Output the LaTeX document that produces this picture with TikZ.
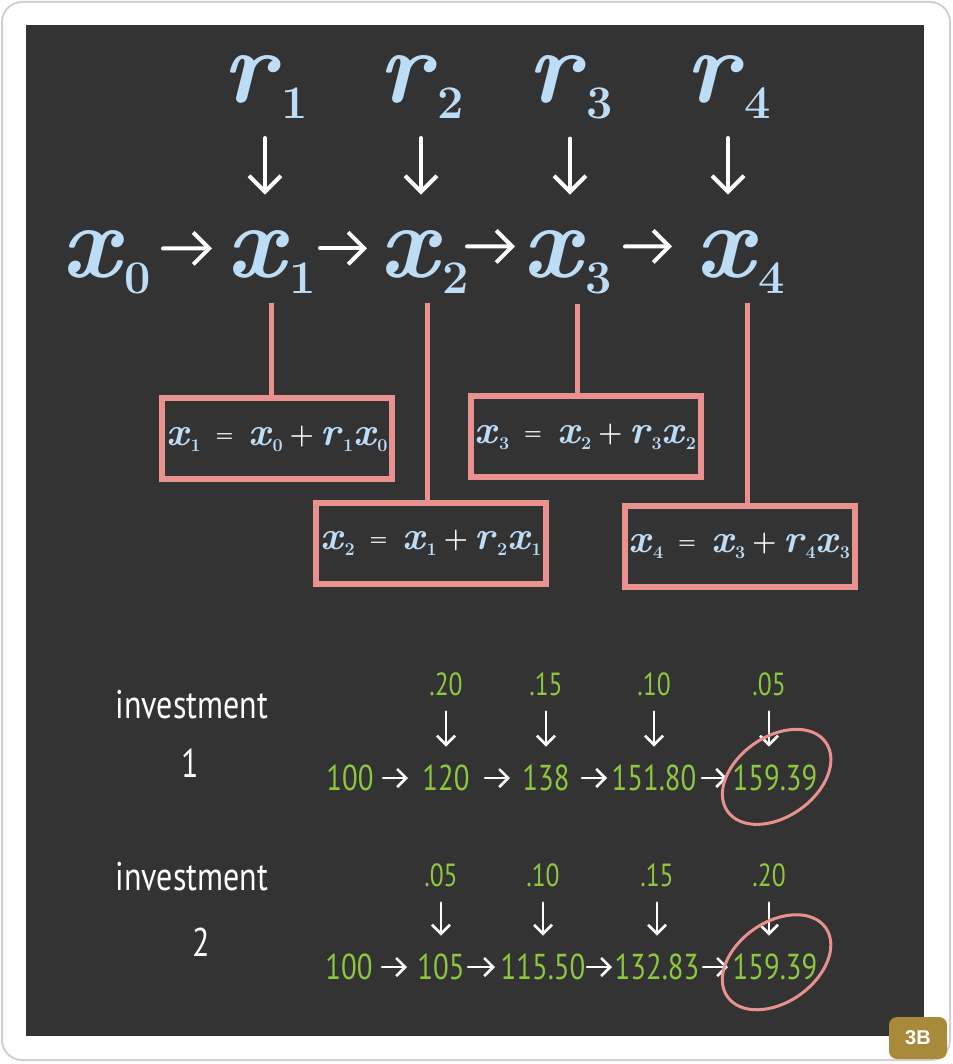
\documentclass[tikz,border=0pt]{standalone}
\usepackage{fontspec}
\usepackage{xcolor}
\usepackage{tikz}
\usetikzlibrary{arrows.meta, positioning}
\newfontfamily\hand[FakeStretch=0.8]{PT Sans}
\newfontfamily\tagfont{Liberation Sans}
\definecolor{board}{HTML}{333333}
\definecolor{sky}{HTML}{BDDCF6}
\definecolor{salmon}{HTML}{E9918F}
\definecolor{lime}{HTML}{8DC63F}
\definecolor{gold}{HTML}{A9893A}
\newcommand{\sv}[2]{\textit{#1}\raisebox{-.15em}{\scalebox{.45}{#2}}}
\newcommand{\eqop}{\raisebox{2pt}{\color{white}\fontsize{10}{10}\selectfont=}}
\newcommand{\plop}{\raisebox{1pt}{\color{white}\fontsize{14}{14}\selectfont+}}

\begin{document}
\begin{tikzpicture}[
    x=0.5pt, y=0.5pt,
    every node/.style={inner sep=0pt},
    var/.style={text=sky, anchor=base, font=\fontsize{52}{52}\selectfont\bfseries},
    eqn/.style={text=sky, draw=salmon, line width=3pt, minimum width=115pt,
      minimum height=40.5pt, font=\fontsize{20}{20}\selectfont\bfseries},
    stem/.style={salmon, line width=2.5pt},
    barr/.style={-{Straight Barb[length=8pt, width=16pt]}, white, line width=2pt,
      line cap=round, line join=round},
    drop/.style={barr, shorten <=9.5pt, shorten >=18pt},
    lbl/.style={white, font=\hand\fontsize{20}{20}\selectfont},
    num/.style={lime, inner sep=2pt, font=\hand\fontsize{18}{18}\selectfont},
    rate/.style={lime, inner sep=2pt, font=\hand\fontsize{16}{16}\selectfont},
    sarr/.style={-{Straight Barb[length=4.5pt, width=9pt]}, white, line width=1.3pt,
      line cap=round, line join=round},
    sdrop/.style={sarr, shorten <=5.5pt, shorten >=7pt},
    ring/.style={salmon, line width=1.5pt},
    stamp/.style={fill=gold, rounded corners=4pt, minimum width=29pt, minimum height=21pt,
      text=white, font=\tagfont\bfseries\fontsize{10}{10}\selectfont}
  ]
  \useasboundingbox (0,0) rectangle (952,-1064);
  \draw[black!18, fill=white, rounded corners=10pt, line width=1pt] (2,-2) rectangle (950,-1060);
  \fill[board] (26,-25) rectangle (924,-1036);

  \node[var] (x0) at (106,-278) {\sv{x}{0}};
  \node[var] (x1) at (271,-278) {\sv{x}{1}};
  \node[var] (x2) at (424,-278) {\sv{x}{2}};
  \node[var] (x3) at (567,-278) {\sv{x}{3}};
  \node[var] (x4) at (740,-278) {\sv{x}{4}};

  \node[var] (r1) at (265,-103) {\sv{r}{1}};
  \node[var] (r2) at (421,-103) {\sv{r}{2}};
  \node[var] (r3) at (570,-103) {\sv{r}{3}};
  \node[var] (r4) at (728,-103) {\sv{r}{4}};

  \draw[drop] (r1.south) -- (r1.south |- x1.north);
  \draw[drop] (r2.south) -- (r2.south |- x2.north);
  \draw[drop] (r3.south) -- (r3.south |- x3.north);
  \draw[drop] (r4.south) -- (r4.south |- x4.north);

  \draw[barr, shorten <=28.5pt, shorten >=29.5pt] ([yshift=7pt]x0.center) -- ([yshift=7pt]x1.center);
  \draw[barr, shorten <=24.5pt, shorten >=28.5pt] ([yshift=7pt]x1.center) -- ([yshift=7pt]x2.center);
  \draw[barr, shorten <=21.5pt, shorten >=26pt] ([yshift=8pt]x2.center) -- ([yshift=8pt]x3.center);
  \draw[barr, shorten <=29pt, shorten >=34pt] ([yshift=8pt]x3.center) -- ([yshift=8pt]x4.center);

  \node[eqn] (eq1) at (277,-438.5) {\sv{x}{1} \eqop{} \sv{x}{0}\,\plop\,\sv{r}{1}\sv{x}{0}};
  \node[eqn] (eq2) at (431,-543) {\sv{x}{2} \eqop{} \sv{x}{1}\,\plop\,\sv{r}{2}\sv{x}{1}};
  \node[eqn] (eq3) at (585.5,-436.5) {\sv{x}{3} \eqop{} \sv{x}{2}\,\plop\,\sv{r}{3}\sv{x}{2}};
  \node[eqn] (eq4) at (739.5,-546) {\sv{x}{4} \eqop{} \sv{x}{3}\,\plop\,\sv{r}{4}\sv{x}{3}};

  \draw[stem] ([yshift=-4.5pt]x1.south) -- (x1.south |- eq1.north);
  \draw[stem] ([xshift=1.5pt, yshift=-4.5pt]x2.south) -- ([xshift=1.5pt]x2.south |- eq2.north);
  \draw[stem] ([xshift=5pt, yshift=-4.5pt]x3.south) -- ([xshift=5pt]x3.south |- eq3.north);
  \draw[stem] ([xshift=3.5pt, yshift=-4.5pt]x4.south) -- ([xshift=3.5pt]x4.south |- eq4.north);

  \node[lbl] (inv1) at (192,-705) {investment};
  \node[lbl] (one) at (190,-763) {1};
  \node[lbl] (inv2) at (192,-877) {investment};
  \node[lbl] (two) at (201,-942) {2};

  \node[num] (a0) at (350,-778) {100};
  \node[num] (a1) at (446,-778) {120};
  \node[num] (a2) at (546,-778) {138};
  \node[num] (a3) at (654,-778) {151.80};
  \node[num] (a4) at (775,-778) {159.39};
  \node[rate, above=30pt of a1] (ra1) {.20};
  \node[rate, above=30pt of a2] (ra2) {.15};
  \node[rate, above=30pt of a3] (ra3) {.10};
  \node[rate, above=30pt of a4, xshift=-3pt] (ra4) {.05};

  \draw[sarr, shorten <=16.5pt, shorten >=19pt] (a0.center) -- (a1.center);
  \draw[sarr, shorten <=19.5pt, shorten >=18pt] (a1.center) -- (a2.center);
  \draw[sarr, shorten <=18pt, shorten >=23.5pt] (a2.center) -- (a3.center);
  \draw[sarr, shorten <=24pt, shorten >=24pt] (a3.center) -- (a4.center);
  \draw[sdrop] (ra1.south) -- (ra1.south |- a1.north);
  \draw[sdrop] (ra2.south) -- (ra2.south |- a2.north);
  \draw[sdrop] (ra3.south) -- (ra3.south |- a3.north);
  \draw[sdrop] (ra4.south) -- (ra4.south |- a4.north);

  \node[num] (b0) at (349,-967) {100};
  \node[num] (b1) at (441,-967) {105};
  \node[num] (b2) at (543,-967) {115.50};
  \node[num] (b3) at (657,-967) {132.83};
  \node[num] (b4) at (775,-967) {159.39};
  \node[rate, above=29pt of b1] (rb1) {.05};
  \node[rate, above=29pt of b2] (rb2) {.10};
  \node[rate, above=29pt of b3] (rb3) {.15};
  \node[rate, above=29pt of b4, xshift=-3pt] (rb4) {.20};

  \draw[sarr, shorten <=16.5pt, shorten >=17pt] (b0.center) -- (b1.center);
  \draw[sarr, shorten <=13.5pt, shorten >=24pt] (b1.center) -- (b2.center);
  \draw[sarr, shorten <=22pt, shorten >=22.5pt] (b2.center) -- (b3.center);
  \draw[sarr, shorten <=23pt, shorten >=23.5pt] (b3.center) -- (b4.center);
  \draw[sdrop] (rb1.south) -- (rb1.south |- b1.north);
  \draw[sdrop] (rb2.south) -- (rb2.south |- b2.north);
  \draw[sdrop] (rb3.south) -- (rb3.south |- b3.north);
  \draw[sdrop] (rb4.south) -- (rb4.south |- b4.north);

  \draw[ring, rotate around={35:(a4.center)}] ([xshift=1pt]a4.center) ellipse [x radius=60, y radius=40];
  \draw[ring, rotate around={35:(b4.center)}] ([shift={(2pt,1.5pt)}]b4.center) ellipse [x radius=60, y radius=40];

  \node[stamp] (badge) at (918,-1038) {3B};
\end{tikzpicture}
\end{document}
